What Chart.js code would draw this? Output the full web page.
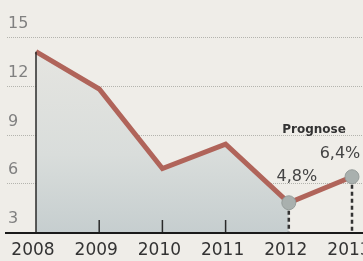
<!DOCTYPE html>
<html>
<head>
<meta charset="utf-8">
<script src="https://cdn.jsdelivr.net/npm/chart.js@4"></script>
<style>
  html, body { margin: 0; padding: 0; background: #efede8; }
  #wrap { width: 363px; height: 261px; position: relative; }
</style>
</head>
<body>
<div id="wrap"><canvas id="chart" width="363" height="261"></canvas></div>
<script>
const years = ['2008', '2009', '2010', '2011', '2012', '2013'];
const values = [14.1, 11.8, 6.9, 8.4, 4.8, 6.4];
const valueLabels = ['', '', '', '', '4,8%', '6,4%'];
const yTicks = [3, 6, 9, 12, 15];
const forecastFrom = 4; // index of 2012

// fill only runs up to 2012
const fillValues = values.map((v, i) => i <= forecastFrom ? v : null);

const decorPlugin = {
    id: 'decor',
    beforeDatasetsDraw(chart) {
        const ctx = chart.ctx;
        const y = chart.scales.y;
        const w = chart.width;
        ctx.save();
        // dotted gridlines + labels sitting above them
        yTicks.forEach(t => {
            const py = Math.round(y.getPixelForValue(t)) + 0.5;
            if (t !== yTicks[0]) {
                ctx.strokeStyle = 'rgba(160,160,155,0.75)';
                ctx.lineWidth = 1;
                ctx.setLineDash([1, 1]);
                ctx.beginPath();
                ctx.moveTo(7, py);
                ctx.lineTo(w, py);
                ctx.stroke();
            }
            ctx.setLineDash([]);
            ctx.fillStyle = '#808080';
            ctx.font = '16px "DejaVu Sans"';
            ctx.textAlign = 'left';
            ctx.textBaseline = 'middle';
            ctx.fillText(String(t), 8, py - 14);
        });
        ctx.restore();
    },
    afterDatasetsDraw(chart) {
        const ctx = chart.ctx;
        const x = chart.scales.x;
        const y = chart.scales.y;
        const base = y.getPixelForValue(yTicks[0]);
        ctx.save();
        // solid vertical at first year
        ctx.strokeStyle = '#2a2a2a';
        ctx.lineWidth = 1.5;
        ctx.beginPath();
        ctx.moveTo(x.getPixelForValue(0), y.getPixelForValue(values[0]));
        ctx.lineTo(x.getPixelForValue(0), base);
        ctx.stroke();
        // small ticks for middle years
        for (let i = 1; i < forecastFrom; i++) {
            const px = x.getPixelForValue(i);
            ctx.beginPath();
            ctx.moveTo(px, base - 12);
            ctx.lineTo(px, base);
            ctx.stroke();
        }
        // dashed drops for forecast points
        ctx.strokeStyle = '#333';
        ctx.lineWidth = 2.5;
        ctx.setLineDash([4, 3]);
        for (let i = forecastFrom; i < values.length; i++) {
            const px = x.getPixelForValue(i);
            ctx.beginPath();
            ctx.moveTo(px, y.getPixelForValue(values[i]) + 8);
            ctx.lineTo(px, base);
            ctx.stroke();
        }
        ctx.setLineDash([]);
        // baseline
        ctx.strokeStyle = '#1a1a1a';
        ctx.lineWidth = 2;
        ctx.beginPath();
        ctx.moveTo(5, base + 1);
        ctx.lineTo(chart.width, base + 1);
        ctx.stroke();
        // year labels
        ctx.fillStyle = '#333';
        ctx.font = '17px "DejaVu Sans"';
        ctx.textAlign = 'center';
        ctx.textBaseline = 'middle';
        years.forEach((yr, i) => {
            ctx.fillText(yr, x.getPixelForValue(i) - 3, 251);
        });
        // value labels
        ctx.fillStyle = '#444';
        ctx.font = '16px "DejaVu Sans"';
        ctx.fillText(valueLabels[4], x.getPixelForValue(4) + 8, y.getPixelForValue(values[4]) - 26);
        ctx.fillText(valueLabels[5], x.getPixelForValue(5) - 12, y.getPixelForValue(values[5]) - 23);
        ctx.font = 'bold 12px "DejaVu Sans"';
        ctx.fillStyle = '#333';
        ctx.fillText('Prognose', 314, 130);
        ctx.restore();
    }
};

const canvas = document.getElementById('chart');
const gctx = canvas.getContext('2d');
const grad = gctx.createLinearGradient(0, 60, 0, 232);
grad.addColorStop(0, '#e4e4e0');
grad.addColorStop(0.55, '#d9dddb');
grad.addColorStop(1, '#c6cecf');

new Chart(canvas, {
    type: 'line',
    data: {
        labels: years,
        datasets: [{
            data: values,
            borderColor: '#b0645a',
            borderWidth: 5,
            borderJoinStyle: 'miter',
            fill: false,
            pointRadius: values.map((v, i) => i >= forecastFrom ? 7 : 0),
            pointBackgroundColor: '#a9b0ae',
            pointBorderColor: '#959c9a',
            pointBorderWidth: 1
        }, {
            data: fillValues,
            borderWidth: 0,
            pointRadius: 0,
            fill: 'start',
            backgroundColor: grad,
            spanGaps: false
        }]
    },
    options: {
        responsive: false,
        animation: false,
        events: [],
        layout: { padding: { left: 36, right: 11, top: 37, bottom: 29 } },
        plugins: { legend: { display: false }, tooltip: { enabled: false } },
        scales: {
            x: { display: false },
            y: { display: false, min: 3, max: 15 }
        }
    },
    plugins: [decorPlugin]
});
</script>
</body>
</html>
